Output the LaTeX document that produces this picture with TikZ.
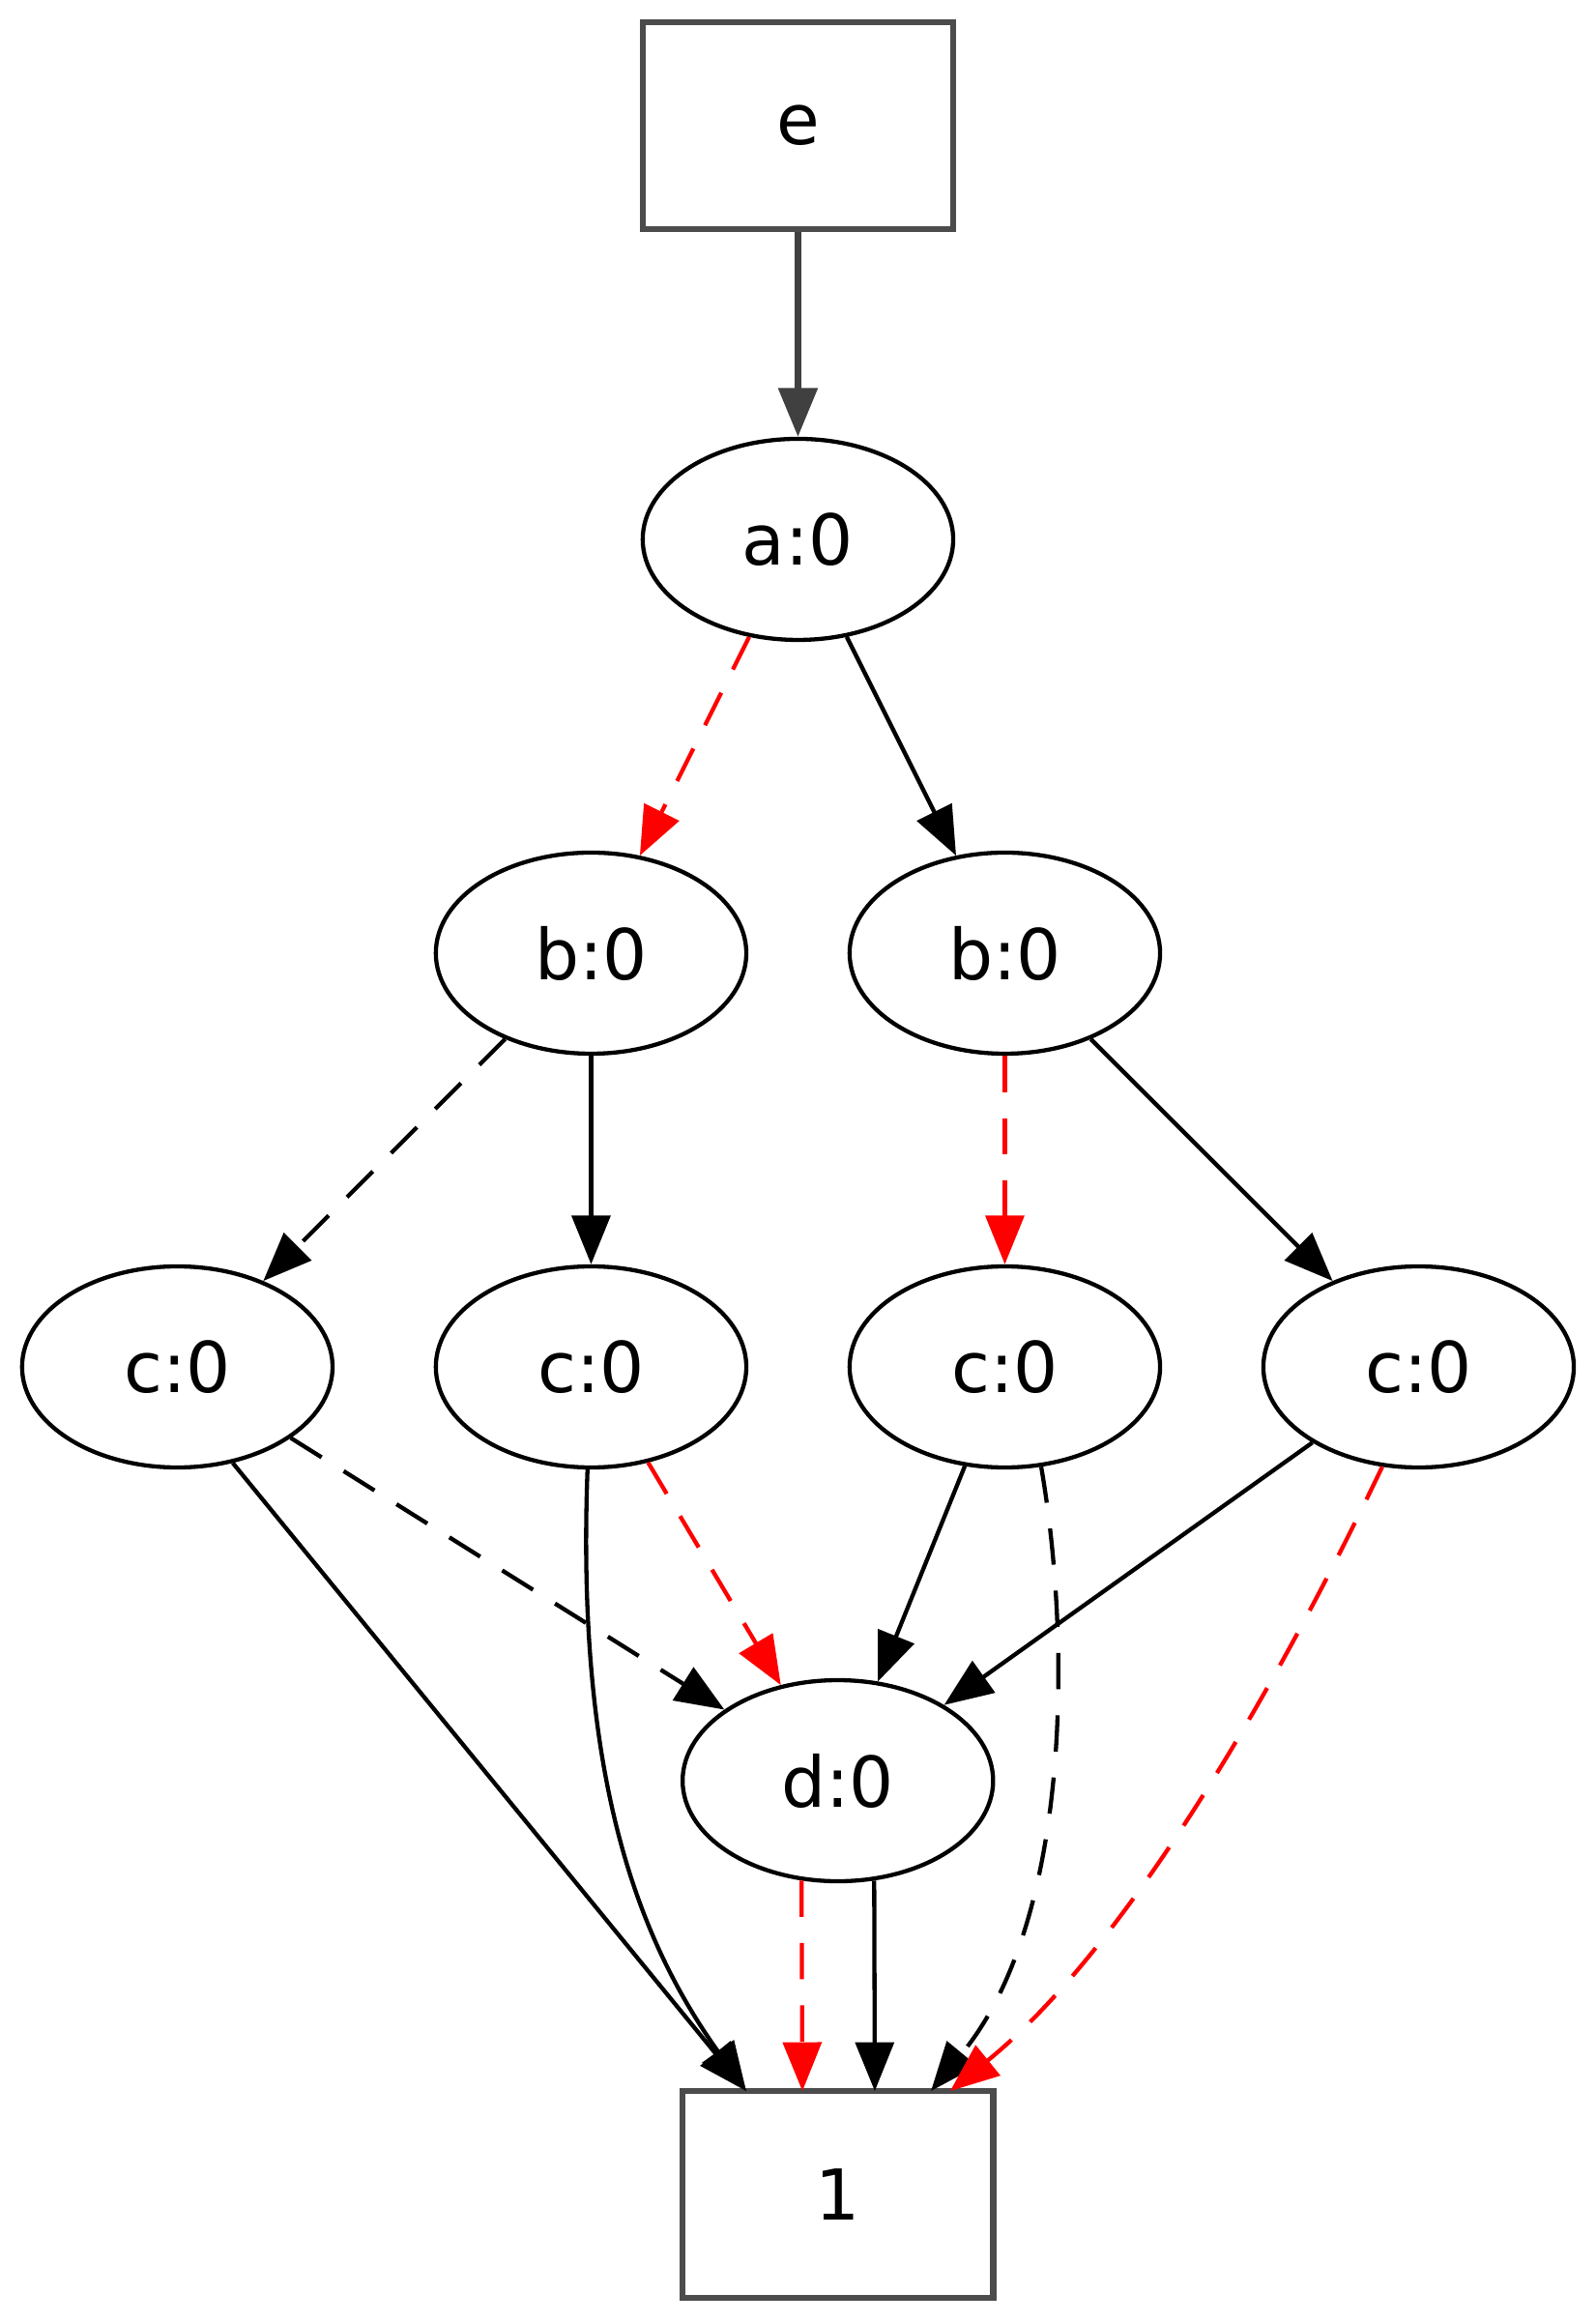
\documentclass[tikz,border=0pt]{standalone}
\usepackage{fontspec}
\setmainfont{DejaVu Sans}
\usetikzlibrary{shapes.geometric,arrows.meta}
\begin{document}
\begin{tikzpicture}[x=0.01cm,y=-0.01cm,
  every node/.style={font=\fontsize{13.5}{16}\selectfont},
  el/.style={ellipse,draw,line width=0.8pt,minimum width=2.1cm,minimum height=1.36cm,inner sep=0pt},
  bx/.style={rectangle,draw=black!70,line width=1.2pt,minimum width=2.1cm,minimum height=1.4cm},
  ar/.style={line width=0.8pt,-{Triangle[length=0.33cm,width=0.26cm]}},
  rd/.style={ar,red,dash pattern=on 7pt off 5pt},
  bd/.style={ar,dash pattern=on 7pt off 5pt}]
\useasboundingbox (0,0) rectangle (1080,1572);
\node[bx] (e) at (540,85) {e};
\node[el] (a) at (540,365) {a:0};
\node[el] (b1) at (400,645) {b:0};
\node[el] (b2) at (680,645) {b:0};
\node[el] (c1) at (120,925) {c:0};
\node[el] (c2) at (400,925) {c:0};
\node[el] (c3) at (680,925) {c:0};
\node[el] (c4) at (960,925) {c:0};
\node[el] (d) at (567,1205) {d:0};
\node[bx] (one) at (567,1485) {1};
\coordinate (p1) at (505,1415);
\coordinate (p2) at (630,1415);
\coordinate (p3) at (643,1415);
\coordinate (p4) at (543,1415);
\coordinate (p5) at (592,1415);
\draw[ar,black!75,line width=1.2pt] (e) -- (a);
\draw[rd] (a) -- (b1);
\draw[ar] (a) -- (b2);
\draw[bd] (b1) -- (c1);
\draw[ar] (b1) -- (c2);
\draw[rd] (b2) -- (c3);
\draw[ar] (b2) -- (c4);
\draw[bd] (c1) -- (d);
\draw[ar] (c1.300) -- (p1);
\draw[rd] (c2) -- (d);
\draw[ar] (c2.268) .. controls (390,1200) and (430,1310) .. (p1);
\draw[ar] (c3) -- (d);
\draw[bd] (c3.290) .. controls (725,1110) and (725,1300) .. (p2);
\draw[ar] (c4) -- (d);
\draw[rd] (c4.250) .. controls (860,1150) and (760,1320) .. (p3);
\draw[rd] (d.250) -- (p4);
\draw[ar] (d.290) -- (p5);
\end{tikzpicture}
\end{document}
